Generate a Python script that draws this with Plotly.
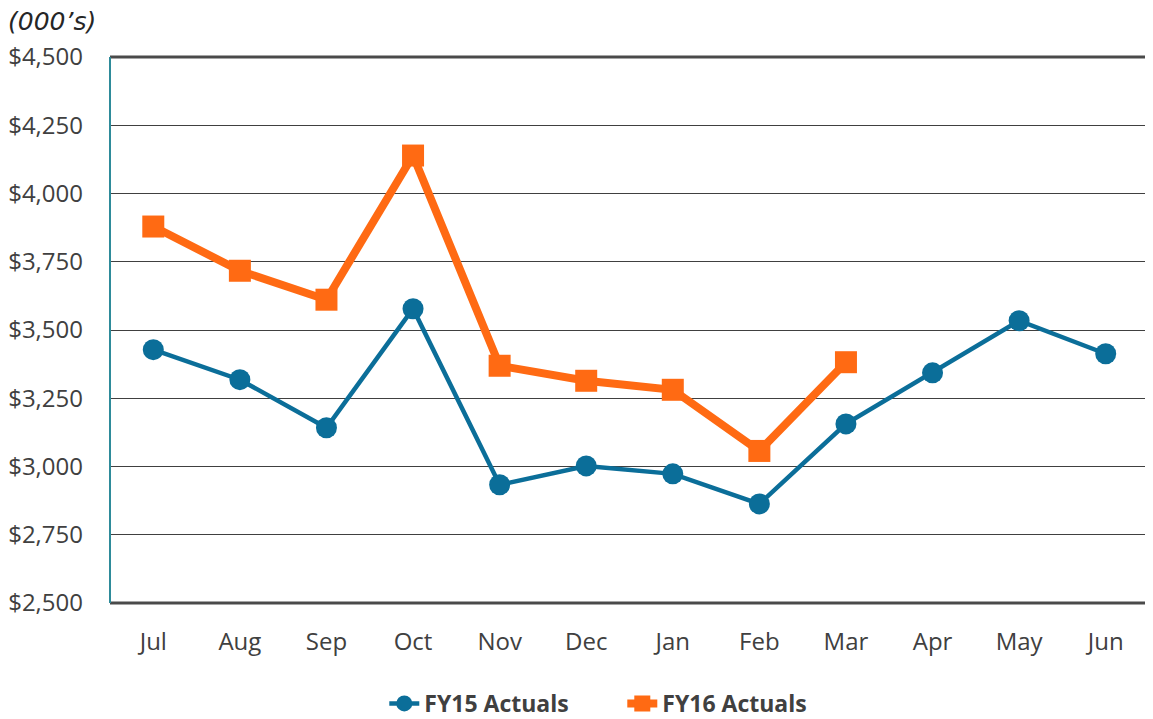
import plotly.graph_objects as go

months = ["Jul", "Aug", "Sep", "Oct", "Nov", "Dec", "Jan", "Feb", "Mar", "Apr", "May", "Jun"]
fy15 = [3428, 3318, 3142, 3578, 2933, 3002, 2973, 2863, 3156, 3343, 3534, 3413]
fy16 = [3879, 3717, 3611, 4139, 3369, 3314, 3281, 3057, 3382]
y_ticks = [2500, 2750, 3000, 3250, 3500, 3750, 4000, 4250, 4500]
y_tick_labels = ["$2,500", "$2,750", "$3,000", "$3,250", "$3,500", "$3,750", "$4,000", "$4,250", "$4,500"]

FONT = "Open Sans"
BLUE = "#0B6E99"
ORANGE = "#FF6A13"
GRID = "#404040"
TXT = "#404040"

fig = go.Figure()
fig.add_trace(go.Scatter(
    x=months, y=fy15, name="FY15 Actuals", mode="lines+markers",
    line=dict(color=BLUE, width=4.5),
    marker=dict(symbol="circle", size=21, color=BLUE),
))
fig.add_trace(go.Scatter(
    x=months[:len(fy16)], y=fy16, name="FY16 Actuals", mode="lines+markers",
    line=dict(color=ORANGE, width=8),
    marker=dict(symbol="square", size=22, color=ORANGE),
))

fig.update_layout(
    width=1145, height=711,
    margin=dict(l=102, r=4, t=49, b=116, autoexpand=False),
    paper_bgcolor="white", plot_bgcolor="white",
    font=dict(family=FONT, color=TXT, size=24),
    showlegend=True,
    legend=dict(orientation="h", x=0.264, xanchor="left", y=-0.184, yanchor="middle",
                font=dict(family=FONT, size=23, color=TXT, weight="bold"),
                entrywidth=193, entrywidthmode="pixels",
                traceorder="normal"),
    xaxis=dict(
        type="category", categoryorder="array", categoryarray=months,
        range=[-0.5, 11.5],
        showgrid=False, zeroline=False, showline=False,
        ticks="", ticklabelstandoff=22,
        tickfont=dict(family=FONT, size=24, color=TXT),
    ),
    yaxis=dict(
        range=[2500, 4500], tickvals=y_ticks, ticktext=y_tick_labels,
        showgrid=True, gridcolor=GRID, gridwidth=1,
        zeroline=False, showline=False, ticks="", ticklabelstandoff=26,
        tickfont=dict(family=FONT, size=24, color=TXT),
    ),
    annotations=[dict(
        text="<i>(000’s)</i>", xref="paper", yref="paper", x=-0.1, y=1.0,
        xanchor="left", yanchor="bottom", yshift=19, showarrow=False,
        font=dict(family="DejaVu Sans", size=25, color="#262626"),
    )],
    shapes=[
        dict(type="line", xref="paper", yref="paper", x0=0, x1=1, y0=1, y1=1,
             line=dict(color="#4a4a4a", width=3)),
        dict(type="line", xref="paper", yref="paper", x0=1, x1=1, y0=0, y1=1,
             line=dict(color="#4a4a4a", width=3)),
        dict(type="line", xref="paper", yref="paper", x0=0, x1=1, y0=0, y1=0,
             line=dict(color="#4a4a4a", width=3)),
        dict(type="line", xref="paper", yref="paper", x0=0, x1=0, y0=0, y1=1,
             line=dict(color="#2E8B9A", width=2)),
    ],
)

fig.write_html("out.html")
